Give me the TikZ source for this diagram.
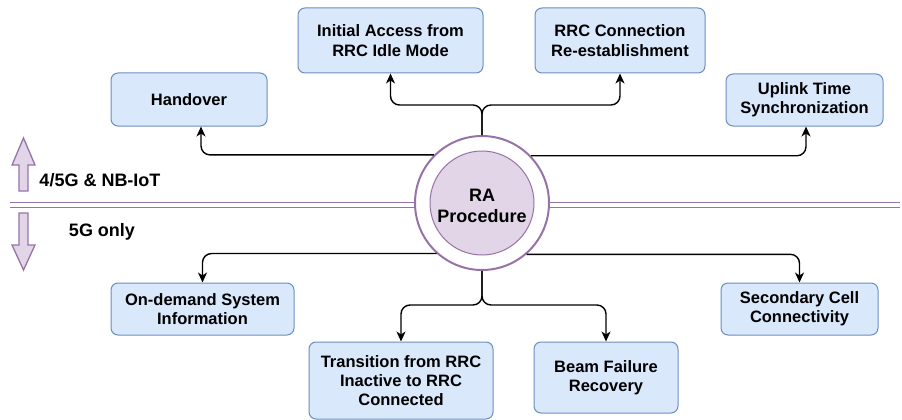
\documentclass[tikz,border=0pt]{standalone}
\usepackage{fontspec}
\setmainfont{Liberation Sans}
\usetikzlibrary{arrows.meta}
\definecolor{boxfill}{HTML}{DAE8FC}
\definecolor{boxline}{HTML}{6C8EBF}
\definecolor{purfill}{HTML}{E1D5E7}
\definecolor{purline}{HTML}{9673A6}
\begin{document}
\begin{tikzpicture}[x=1pt,y=-1pt,
  box/.style={draw=boxline, fill=boxfill, rounded corners=7pt, line width=1pt, align=center,
              font=\fontsize{16.5}{19.3}\selectfont\bfseries, inner sep=0pt},
  conn/.style={line width=1.4pt, -{Stealth[length=10pt,width=9pt,inset=3pt]}, rounded corners=9pt},
  lbl/.style={font=\fontsize{18}{21.6}\selectfont\bfseries, inner sep=0pt},
  blockarrow/.style={draw=purline, fill=purfill, line width=1.3pt, line join=miter},
  sepline/.style={draw=purline, line width=1pt}]
\useasboundingbox (0,0) rectangle (902,420);

% separator double line
\coordinate (sl1) at (10,202);
\coordinate (sr1) at (900,202);
\coordinate (sl2) at (10,207);
\coordinate (sr2) at (900,207);
\draw[sepline] (sl1) -- (sr1);
\draw[sepline] (sl2) -- (sr2);

% block arrows
\draw[blockarrow] (23.5,138) -- (35,165) -- (28,165) -- (28,191) -- (19,191) -- (19,165) -- (12,165) -- cycle;
\draw[blockarrow] (12,245) -- (19,245) -- (19,213) -- (28,213) -- (28,245) -- (35,245) -- (23.5,270) -- cycle;

\node[lbl] (lt) at (100,180) {4/5G \& NB-IoT};
\node[lbl] (lb) at (102,232) {5G only};

% central circle
\node[circle, draw=purline, line width=2pt, fill=white, minimum size=134pt, inner sep=0pt] (ra) at (482,203) {};
\node[circle, draw=purline, line width=1pt, fill=purfill, minimum size=104pt, inner sep=0pt] (rain) at (482,203) {};
\node[align=center, font=\fontsize{18}{21.6}\selectfont\bfseries, inner sep=0pt] (ratext) at (482,206) {RA\\Procedure};

% boxes
\node[box, minimum width=156pt, minimum height=53pt] (ho) at (189,99.5) {Handover};
\node[box, minimum width=185pt, minimum height=65pt] (ia) at (390.5,40.5) {Initial Access from\\RRC Idle Mode};
\node[box, minimum width=170pt, minimum height=65pt] (rrc) at (620,40.5) {RRC Connection\\Re-establishment};
\node[box, minimum width=157pt, minimum height=52pt] (ul) at (804.5,100) {Uplink Time\\Synchronization};
\node[box, minimum width=183pt, minimum height=52pt] (od) at (202.5,309) {On-demand System\\Information};
\node[box, minimum width=157pt, minimum height=52pt] (sc) at (799.5,309) {Secondary Cell\\Connectivity};
\node[box, minimum width=184pt, minimum height=77pt] (tr) at (401,380.5) {Transition from RRC\\Inactive to RRC\\Connected};
\node[box, minimum width=144pt, minimum height=71pt] (bf) at (606,377.5) {Beam Failure\\Recovery};

% connectors
\coordinate (ts) at (482,105);
\coordinate (bs) at (482,305);
\draw[conn] (ra.135.5) -| ([xshift=12pt]ho.south);
\draw[conn] (ra.44.5) -| ([xshift=1.5pt]ul.south);
\draw[conn] (ra.north) |- (ia.south |- ts) -- (ia.south);
\draw[conn] (ra.north) |- (rrc.south |- ts) -- (rrc.south);
\draw[conn] (ra.south) |- (tr.north |- bs) -- (tr.north);
\draw[conn] (ra.south) |- (bf.north |- bs) -- (bf.north);
\draw[conn] (ra.228.3) -| (od.north);
\draw[conn] (ra.311.7) -| (sc.north);
\end{tikzpicture}
\end{document}
